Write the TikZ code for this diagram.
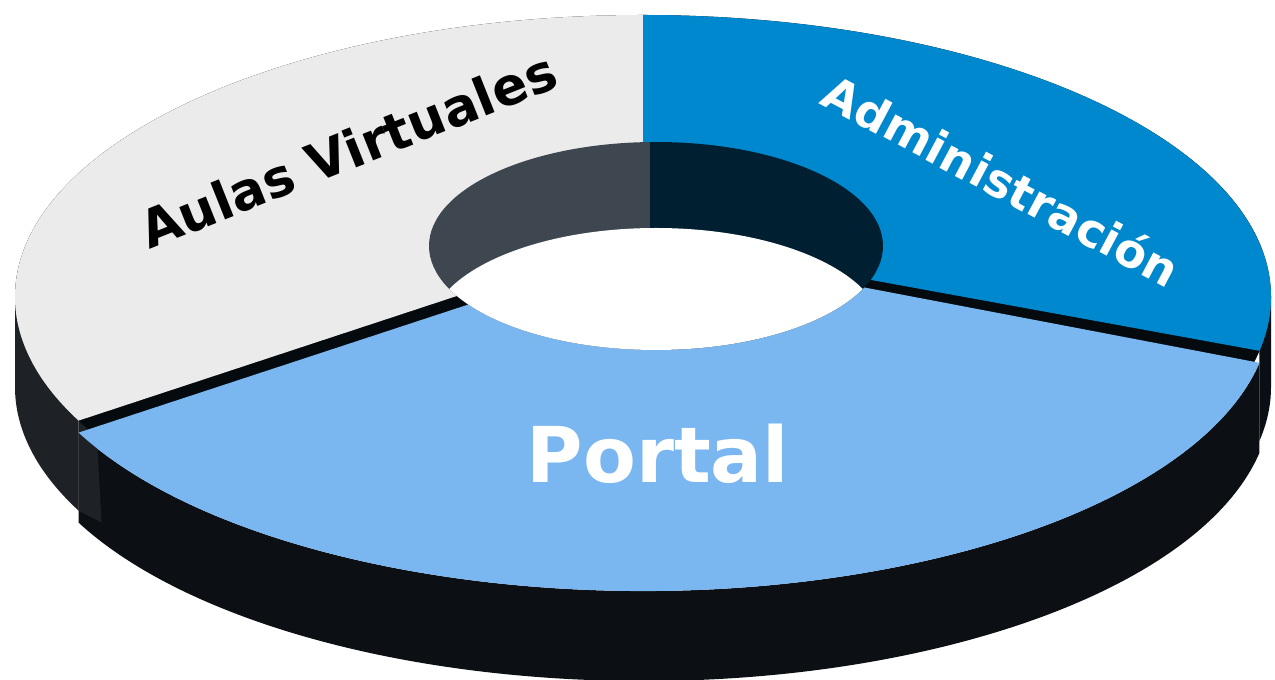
\documentclass[tikz,border=0pt]{standalone}
\usepackage{fontspec}
\setmainfont{DejaVu Sans}
\usetikzlibrary{calc}
\definecolor{aulastop}{HTML}{EBEBEB}
\definecolor{admintop}{HTML}{0088CE}
\definecolor{portaltop}{HTML}{7AB7F0}
\definecolor{wallgrey}{HTML}{3E4750}
\definecolor{wallnavy}{HTML}{001F30}
\definecolor{aulasside}{HTML}{1E2125}
\definecolor{portalside}{HTML}{0C1014}
\definecolor{adminside}{HTML}{0A0F15}
\definecolor{gapblack}{HTML}{050A0F}
\begin{document}
\begin{tikzpicture}[x=1pt,y=1pt,
  outer/.style={x radius=628,y radius=282},
  lbl/.style={inner sep=0pt}]
\useasboundingbox (0,0) rectangle (1275,680);
\fill[white] (0,0) rectangle (1275,680);
% centres
\coordinate (OT) at (643,383);  % top of Aulas / Administracion
\coordinate (OP) at (643,371);  % top of Portal (slightly pulled out)
\coordinate (IT) at (656,434);  % rim of the hole
\coordinate (IB) at (656,348);  % bottom rim of the hole
% side walls
\fill[aulasside] ($(OT)+(180:628 and 282)$) arc[start angle=180,end angle=206,outer]
  -- ++(0,-90) arc[start angle=206,end angle=180,outer] -- cycle;
\fill[adminside] ($(OT)+(349:628 and 282)$) arc[start angle=349,end angle=360,outer]
  -- ++(0,-90) arc[start angle=360,end angle=349,outer] -- cycle;
\fill[portalside] ($(OP)+(206:628 and 282)$) arc[start angle=206,end angle=349,outer]
  -- ++(0,-90) arc[start angle=349,end angle=206,outer] -- cycle;
% cut face of Aulas Virtuales beside the pulled-out Portal slice
\fill[aulasside] ($(OT)+(206:628 and 282)$) -- ++(18,-12) -- ++(5,-90) -- ++(-23,12) -- cycle;
% cut faces seen in the gaps
\fill[gapblack] (OT) ellipse[x radius=628,y radius=282];
% top faces
\fill[aulastop] ($(OT)+(90:628 and 282)$) arc[start angle=90,end angle=206,outer]
  -- (560,418) -- (643,418) -- cycle;
\fill[admintop] ($(OT)+(90:628 and 282)$) -- (643,418) -- (800,413)
  -- ($(OT)+(-11:628 and 282)$) arc[start angle=-11,end angle=90,outer] -- cycle;
\fill[portaltop] ($(OP)+(206:628 and 282)$) arc[start angle=206,end angle=349,outer]
  -- (800,404.8) -- (560,405.6) -- cycle;
% the hole
\begin{scope}
  \clip (IT) ellipse[x radius=227,y radius=104];
  \fill[wallgrey] (420,300) rectangle (650,560);
  \fill[wallnavy] (650,300) rectangle (900,560);
  \fill[white] (IB) ellipse[x radius=227,y radius=104];
\end{scope}
% labels
\node[lbl,rotate=21.7,text=black,font=\bfseries\fontsize{52}{52}\selectfont]
  (aulas) at (348,530) {Aulas Virtuales};
\node[lbl,rotate=-28,text=white,font=\bfseries\fontsize{46.5}{46.5}\selectfont]
  (admin) at (1002,500) {Administración};
\node[lbl,text=white,font=\bfseries\fontsize{77}{77}\selectfont]
  (portal) at (658,226) {Portal};
\end{tikzpicture}
\end{document}
